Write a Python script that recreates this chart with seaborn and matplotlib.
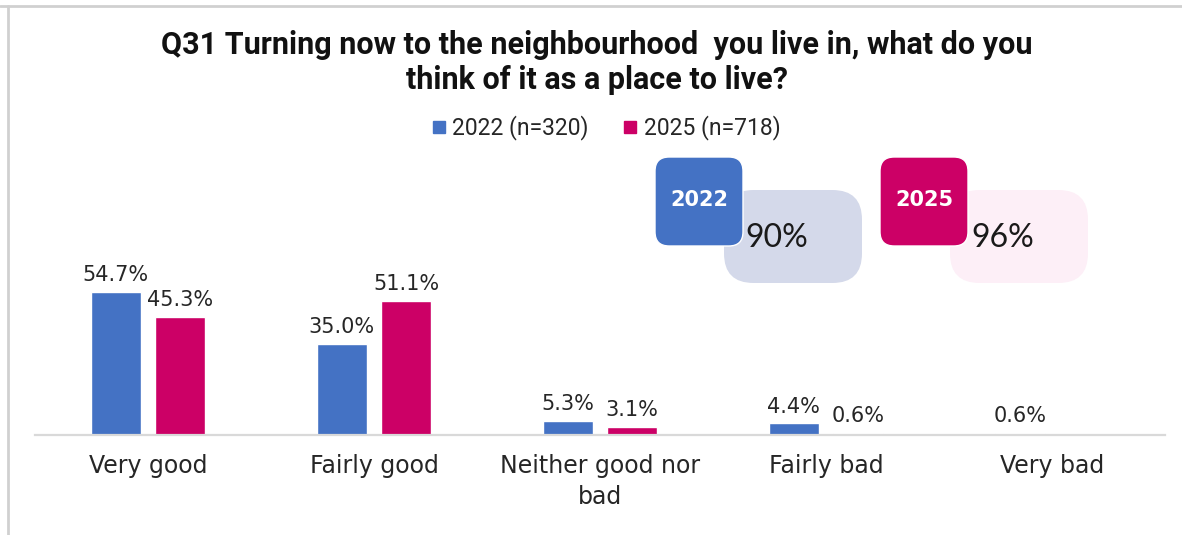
import matplotlib
matplotlib.use("Agg")
import matplotlib.pyplot as plt
from matplotlib.patches import FancyBboxPatch
from matplotlib.lines import Line2D
import seaborn as sns
import pandas as pd

# Survey answers and shares (%)
categories = ["Very good", "Fairly good", "Neither good nor\nbad", "Fairly bad", "Very bad"]
years = ["2022 (n=320)", "2025 (n=718)"]
pct_2022 = [54.7, 35.0, 5.3, 4.4, 0.6]
pct_2025 = [45.3, 51.1, 3.1, 0.6, 0.0]

# Headline share rating the area as good
summary_years = ["2022", "2025"]
summary_good = [90, 96]

BLUE = "#4472C4"
MAGENTA = "#CC0066"
LIGHT_BLUE = "#D4D9EA"
LIGHT_PINK = "#FDEFF7"
TEXT = "#262626"
NARROW = ["Roboto", "DejaVu Sans"]

df = pd.DataFrame({
    "category": categories * 2,
    "year": [years[0]] * len(categories) + [years[1]] * len(categories),
    "pct": pct_2022 + pct_2025,
})

sns.set_theme(style="white")
plt.rcParams["font.family"] = ["DejaVu Sans"]

W, H = 1182, 535
fig = plt.figure(figsize=(W / 100, H / 100), dpi=100)
ax = fig.add_axes([35 / W, 1 - 435 / H, 1130 / W, 261.4 / H])

sns.barplot(data=df, x="category", y="pct", hue="year", order=categories,
            hue_order=years, palette=[BLUE, MAGENTA], width=0.57, gap=0.22,
            saturation=1, legend=False, ax=ax)

ax.set_ylim(0, 100)
ax.set_xlim(-0.5, len(categories) - 0.5)
ax.set_xlabel("")
ax.set_ylabel("")
ax.set_yticks([])
for side in ["left", "right", "top"]:
    ax.spines[side].set_visible(False)
ax.spines["bottom"].set_color("#D9D9D9")
ax.spines["bottom"].set_linewidth(1.6)
ax.tick_params(axis="x", length=0, pad=14, labelsize=17, labelcolor=TEXT)
for lbl in ax.get_xticklabels():
    lbl.set_linespacing(1.35)
    lbl.set_verticalalignment("top")

for container, vals in zip(ax.containers, [pct_2022, pct_2025]):
    labels = [f"{v:.1f}%" if v > 0 else "" for v in vals]
    ax.bar_label(container, labels=labels, padding=5, fontsize=15, color=TEXT)

# Title
fig.text(0.505, 1 - 45 / H, "Q31 Turning now to the neighbourhood  you live in, what do you",
         ha="center", va="center", fontsize=22, fontweight="bold", color="#111111",
         family=NARROW)
fig.text(0.505, 1 - 80 / H, "think of it as a place to live?",
         ha="center", va="center", fontsize=22, fontweight="bold", color="#111111",
         family=NARROW)

# Legend
handles = [Line2D([], [], marker="s", linestyle="", markersize=9, color=c)
           for c in [BLUE, MAGENTA]]
fig.legend(handles, years, loc="center", bbox_to_anchor=(0.51, 1 - 128 / H),
           ncol=2, frameon=False, handletextpad=0.0, columnspacing=1.2,
           handlelength=1.2, prop={"family": NARROW, "size": 16.5})
for t in fig.legends[0].get_texts():
    t.set_color(TEXT)

# Headline cards
card_specs = [
    (655, 724, BLUE, LIGHT_BLUE),
    (880, 950, MAGENTA, LIGHT_PINK),
]
for (dx, lx, dark, light), yr, val in zip(card_specs, summary_years, summary_good):
    back = FancyBboxPatch((lx / W, 1 - 283 / H), 138 / W, 93 / H,
                          boxstyle="round,pad=0,rounding_size=0.025",
                          transform=fig.transFigure, facecolor=light,
                          edgecolor="none", mutation_aspect=W / H, zorder=5)
    fig.add_artist(back)
    front = FancyBboxPatch((dx / W, 1 - 246 / H), 88 / W, 89 / H,
                           boxstyle="round,pad=0,rounding_size=0.012",
                           transform=fig.transFigure, facecolor=dark,
                           edgecolor="white", linewidth=1.0,
                           mutation_aspect=W / H, zorder=6)
    fig.add_artist(front)
    fig.text((dx + 44) / W, 1 - 200 / H, yr, ha="center", va="center",
             fontsize=15, fontweight="bold", color="white", zorder=7)
    fig.text((lx + 21) / W, 1 - 238 / H, f"{val}%", ha="left", va="center",
             fontsize=23, color="#1a1a1a", zorder=7, family=["Lato", "DejaVu Sans"])

# Frame edges
fig.add_artist(Line2D([0, 1], [1 - 6 / H, 1 - 6 / H], transform=fig.transFigure,
                      color="#D0D0D0", linewidth=2))
fig.add_artist(Line2D([8 / W, 8 / W], [0, 1 - 6 / H], transform=fig.transFigure,
                      color="#D0D0D0", linewidth=2))

fig.savefig("out.png", dpi=100, facecolor="white")
